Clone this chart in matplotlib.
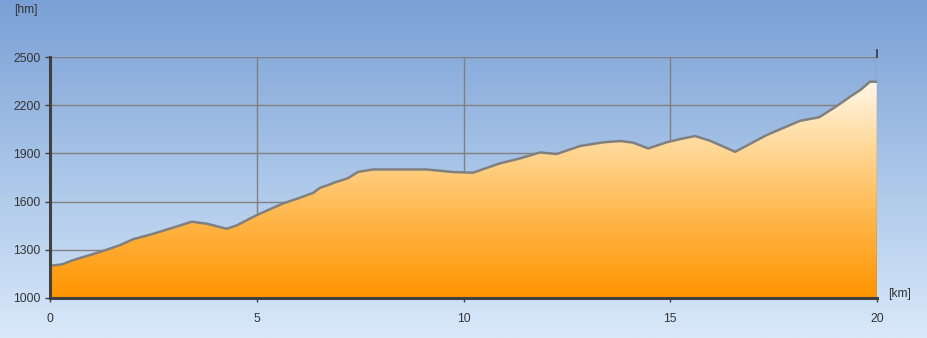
import numpy as np
import matplotlib
matplotlib.use("Agg")
import matplotlib.pyplot as plt
from matplotlib.colors import LinearSegmentedColormap

# elevation profile
km = [0.0, 0.3, 0.56, 1.0, 1.37, 1.7, 2.0, 2.5, 3.0, 3.43, 3.8, 4.27, 4.5,
      5.0, 5.64, 6.0, 6.37, 6.53, 6.77, 6.89, 7.2, 7.45, 7.81, 9.1, 9.75,
      10.23, 10.88, 11.37, 11.85, 12.25, 12.82, 13.38, 13.79, 14.1, 14.47,
      14.91, 15.24, 15.6, 15.96, 16.57, 17.33, 18.14, 18.6, 18.94, 19.18,
      19.35, 19.6, 19.83, 20.0]
elev = [1200, 1210, 1236, 1270, 1300, 1330, 1365, 1400, 1440, 1475, 1462,
        1431, 1450, 1516, 1589, 1620, 1655, 1686, 1707, 1720, 1745, 1785,
        1800, 1800, 1784, 1780, 1838, 1869, 1906, 1896, 1946, 1969, 1977,
        1967, 1931, 1969, 1989, 2008, 1979, 1910, 2014, 2103, 2125, 2180,
        2222, 2253, 2295, 2346, 2346]

xticks = [0, 5, 10, 15, 20]
yticks = [1000, 1300, 1600, 1900, 2200, 2500]

fig = plt.figure(figsize=(9.27, 3.38), dpi=100)

# figure background gradient
bg = fig.add_axes([0, 0, 1, 1], zorder=0)
bg_cmap = LinearSegmentedColormap.from_list("bg", ["#d9e9fa", "#a9c5e8", "#7aa0d5"])
bg.imshow(np.linspace(0, 1, 256).reshape(-1, 1), cmap=bg_cmap, aspect="auto",
          origin="lower", extent=[0, 1, 0, 1])
bg.axis("off")

ax = fig.add_axes([50 / 927, 1 - 298 / 338, 827 / 927, 241 / 338], zorder=1)
ax.set_facecolor("none")

# grid behind the fill
for y in yticks[1:]:
    ax.axhline(y, color="#808080", lw=1.0, zorder=1)
for x in xticks[1:4]:
    ax.axvline(x, color="#808080", lw=1.0, zorder=1)

# gradient filled profile
poly = ax.fill_between(km, elev, 1000, color="none", zorder=2)
fill_cmap = LinearSegmentedColormap.from_list(
    "fill", ["#ff9400", "#ffb445", "#ffd896", "#fffbf2"])
img = ax.imshow(np.linspace(0, 1, 256).reshape(-1, 1), cmap=fill_cmap,
                aspect="auto", origin="lower", extent=[0, 20, 1000, 2400],
                zorder=2)
img.set_clip_path(poly.get_paths()[0], transform=ax.transData)
ax.set_xlim(0, 20)
ax.set_ylim(1000, 2500)

ax.plot(km, elev, color="#808080", lw=1.8, zorder=3, solid_joinstyle="round")

# right edge line and small top tick
ax.axvline(20, color="#808080", lw=1.0, zorder=4)
ax.plot([20, 20], [2500, 2545], color="#333344", lw=1.2, clip_on=False, zorder=4)

for s in ["top", "right"]:
    ax.spines[s].set_visible(False)
for s in ["left", "bottom"]:
    ax.spines[s].set_color("#404040")
    ax.spines[s].set_linewidth(2.2)
    ax.spines[s].set_zorder(5)

ax.set_xticks(xticks)
ax.set_yticks(yticks)
ax.tick_params(axis="y", length=3.6, width=1, color="#404040", pad=3,
               labelsize=8.7, labelcolor="#333333")
ax.tick_params(axis="x", length=3, width=1, color="#404040", pad=8,
               labelsize=8.7, labelcolor="#333333")
for lab in ax.get_xticklabels() + ax.get_yticklabels():
    lab.set_fontfamily("Liberation Sans")

fig.text(14 / 927, 1 - 10 / 338, "[hm]", fontsize=8.7, color="#333333",
         family="Liberation Sans", va="center", ha="left")
fig.text(888 / 927, 1 - 294 / 338, "[km]", fontsize=8.7, color="#333333",
         family="Liberation Sans", va="center", ha="left")

fig.savefig("out.png", dpi=100)
